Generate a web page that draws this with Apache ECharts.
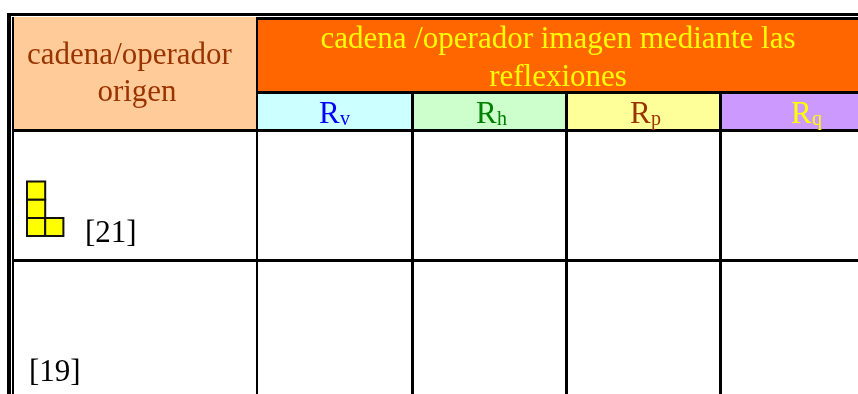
<!DOCTYPE html>
<html>
<head>
<meta charset="utf-8">
<style>html,body{margin:0;padding:0;background:#fff}#main{width:858px;height:394px}</style>
<script src="https://cdn.jsdelivr.net/npm/echarts@6/dist/echarts.min.js"></script>
</head>
<body>
<div id="main"></div>
<script>
var headerLeft = ['cadena/operador', 'origen'];
var headerRight = ['cadena /operador imagen mediante las', 'reflexiones'];
var reflections = ['v', 'h', 'p', 'q'];
var rowLabels = ['[21]', '[19]'];
// cells of the yellow piece in row 1, as [col, row]
var pieceCells = [[0, 0], [0, 1], [0, 2], [1, 2]];

var serif = '"Liberation Serif", "Times New Roman", serif';
var BLACK = '#000';

// [x0, y0, x1, y1, color] background fills
var fills = [
    [13, 17, 256, 91, '#FFCC99'],
    [14, 91, 256, 130, '#FFCC99'],
    [257, 20, 858, 91, '#FF6600'],
    [257, 94, 412, 130, '#CCFFFF'],
    [413, 94, 566, 130, '#CCFFCC'],
    [567, 94, 720, 130, '#FFFF99'],
    [721, 94, 858, 130, '#CC99FF']
];
// table rules
var rules = [
    [7, 13, 858, 16],        // outer top
    [256, 17, 858, 20],      // second top rule over the orange cell
    [7, 13, 11, 394],        // outer left
    [12, 17, 14, 394],       // inner left
    [256, 17, 258, 394],
    [256, 91, 858, 94],
    [411, 94, 414, 394],
    [565, 94, 568, 394],
    [719, 94, 722, 394],
    [12, 129, 858, 132],
    [12, 259, 858, 262]
];
// text, x, baseline y, color, size, align
var texts = [
    [headerLeft[0], 129.5, 64, '#993300', 31, 'center'],
    [headerLeft[1], 137, 101.5, '#993300', 31, 'center'],
    [headerRight[0], 558, 48, '#FFFF00', 31, 'center'],
    [headerRight[1], 558, 86, '#FFFF00', 31, 'center'],
    [rowLabels[0], 85, 242, '#000', 31, 'left'],
    [rowLabels[1], 29, 381.5, '#000', 31, 'left']
];
var subColors = ['#0000FF', '#008000', '#993300', '#FFFF00'];
var subX = [319, 476, 630, 791];
reflections.forEach(function (s, i) {
    texts.push(['R', subX[i], 123, subColors[i], 31, 'left']);
    texts.push([s, subX[i] + 21, 126, subColors[i], 20, 'left']);
});

function boxSeries(data, z) {
    return {
        type: 'custom',
        coordinateSystem: 'cartesian2d',
        silent: true,
        z: z,
        clip: false,
        data: data,
        encode: { x: [0, 2], y: [1, 3] },
        renderItem: function (params, api) {
            var a = api.coord([api.value(0), api.value(1)]);
            var b = api.coord([api.value(2), api.value(3)]);
            return {
                type: 'rect',
                shape: { x: a[0], y: a[1], width: b[0] - a[0], height: b[1] - a[1] },
                style: { fill: data[params.dataIndex][4] || BLACK }
            };
        }
    };
}

var myChart = echarts.init(document.getElementById('main'));

var option = {
    backgroundColor: '#fff',
    animation: false,
    grid: { left: 0, right: 0, top: 0, bottom: 0 },
    xAxis: { type: 'value', min: 0, max: 858, show: false },
    yAxis: { type: 'value', min: 0, max: 394, inverse: true, show: false },
    series: [
        boxSeries(fills, 1),
        boxSeries(rules, 2),
        {
            type: 'custom',
            silent: true,
            z: 3,
            data: pieceCells,
            renderItem: function (params, api) {
                var a = api.coord([27 + api.value(0) * 18.2, 181.5 + api.value(1) * 18.2]);
                return {
                    type: 'rect',
                    shape: { x: a[0], y: a[1], width: 18.2, height: 18.2 },
                    style: { fill: '#FFFF00', stroke: '#111', lineWidth: 2 }
                };
            }
        },
        {
            type: 'custom',
            silent: true,
            z: 4,
            data: texts.map(function (t) { return [t[1], t[2]]; }),
            renderItem: function (params, api) {
                var t = texts[params.dataIndex];
                var p = api.coord([api.value(0), api.value(1)]);
                return {
                    type: 'text',
                    x: p[0],
                    y: p[1] + Math.round(t[4] * 0.216),
                    style: {
                        text: t[0],
                        fill: t[3],
                        font: t[4] + 'px ' + serif,
                        textAlign: t[5],
                        textVerticalAlign: 'bottom'
                    }
                };
            }
        }
    ]
};

myChart.setOption(option);
</script>
</body>
</html>
